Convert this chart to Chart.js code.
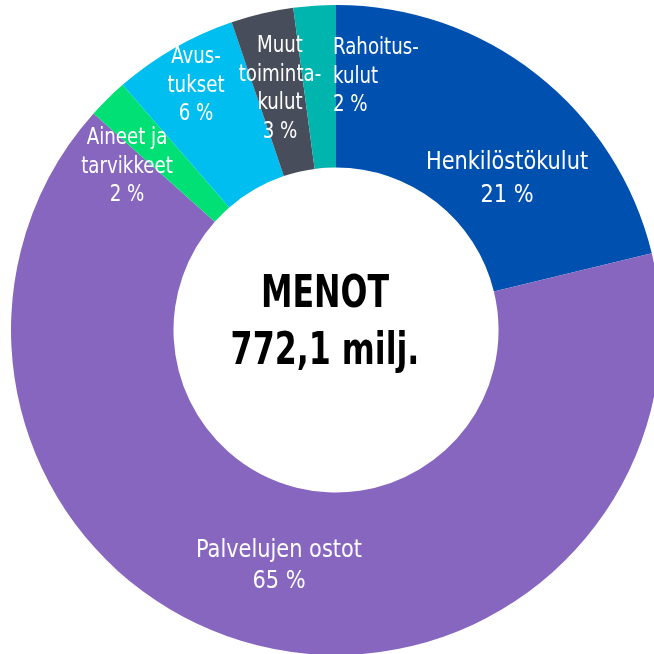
<!DOCTYPE html>
<html>
<head>
<meta charset="utf-8">
<script src="https://cdn.jsdelivr.net/npm/chart.js@4.4.1/dist/chart.umd.min.js"></script>
<style>
    html, body { margin: 0; padding: 0; background: #fff; overflow: hidden; width: 654px; height: 654px; }
    #wrap { position: absolute; left: 11px; top: 5px; width: 650px; height: 650px; }
</style>
</head>
<body>
<div id="wrap"><canvas id="menotChart"></canvas></div>
<script>
const categories = ["Henkilöstökulut", "Palvelujen ostot", "Aineet ja tarvikkeet", "Avustukset", "Muut toimintakulut", "Rahoituskulut"];
const labelLines = [["Henkilöstökulut"], ["Palvelujen ostot"], ["Aineet ja", "tarvikkeet"], ["Avus-", "tukset"], ["Muut", "toiminta-", "kulut"], ["Rahoitus-", "kulut"]];
const shares = [21.2, 65.4, 2.0, 6.2, 3.1, 2.1];
const colors = ["#0050b0", "#8766c0", "#00e074", "#00bef0", "#474d5a", "#00b5ad"];
const totalText = ["MENOT", "772,1 milj."];

// where each label block sits, relative to the chart centre
const labelLayout = [
    { dx: 171, dy: -151, size: 25, lh: 33, align: "center" },
    { dx: -57, dy: 236, size: 25, lh: 31, align: "center" },
    { dx: -209, dy: -163, size: 23, lh: 28.5, align: "center" },
    { dx: -140, dy: -244, size: 23, lh: 28.5, align: "center" },
    { dx: -56, dy: -241, size: 23, lh: 28.5, align: "center" },
    { dx: -3, dy: -253, size: 23, lh: 28.5, align: "left" }
];

const fontFamily = "'DejaVu Sans Condensed', 'Liberation Sans Narrow', sans-serif";

// narrow text a bit, the original uses a tighter condensed face
function squeezeText(ctx, text, x, y, sx) {
    ctx.save();
    ctx.translate(x, y);
    ctx.scale(sx, 1);
    ctx.fillText(text, 0, 0);
    ctx.restore();
}

const labelPlugin = {
    id: "sliceLabels",
    afterDraw: function (chart) {
        const ctx = chart.ctx;
        const arc = chart.getDatasetMeta(0).data[0];
        const cx = arc.x;
        const cy = arc.y;
        ctx.save();
        ctx.textBaseline = "middle";
        ctx.fillStyle = "#ffffff";
        for (let i = 0; i < shares.length; i++) {
            const lay = labelLayout[i];
            const lines = labelLines[i].concat([Math.round(shares[i]) + " %"]);
            ctx.font = "500 " + lay.size + "px " + fontFamily;
            ctx.textAlign = lay.align;
            const sx = lay.size > 24 ? 0.93 : 0.88;
            const top = cy + lay.dy - (lines.length - 1) * lay.lh / 2;
            for (let j = 0; j < lines.length; j++) {
                squeezeText(ctx, lines[j], cx + lay.dx, top + j * lay.lh, sx);
            }
        }
        ctx.fillStyle = "#000000";
        ctx.textAlign = "center";
        ctx.font = "bold 44px " + fontFamily;
        squeezeText(ctx, totalText[0], cx - 11, cy - 34, 0.8);
        squeezeText(ctx, totalText[1], cx - 11, cy + 23, 0.8);
        ctx.restore();
    }
};

new Chart(document.getElementById("menotChart").getContext("2d"), {
    type: "doughnut",
    data: {
        labels: categories,
        datasets: [{
            data: shares,
            backgroundColor: colors,
            borderWidth: 0,
            hoverOffset: 0
        }]
    },
    options: {
        responsive: true,
        maintainAspectRatio: false,
        animation: false,
        cutout: "50%",
        layout: { padding: 0 },
        plugins: {
            legend: { display: false },
            tooltip: { enabled: false }
        }
    },
    plugins: [labelPlugin]
});
</script>
</body>
</html>
